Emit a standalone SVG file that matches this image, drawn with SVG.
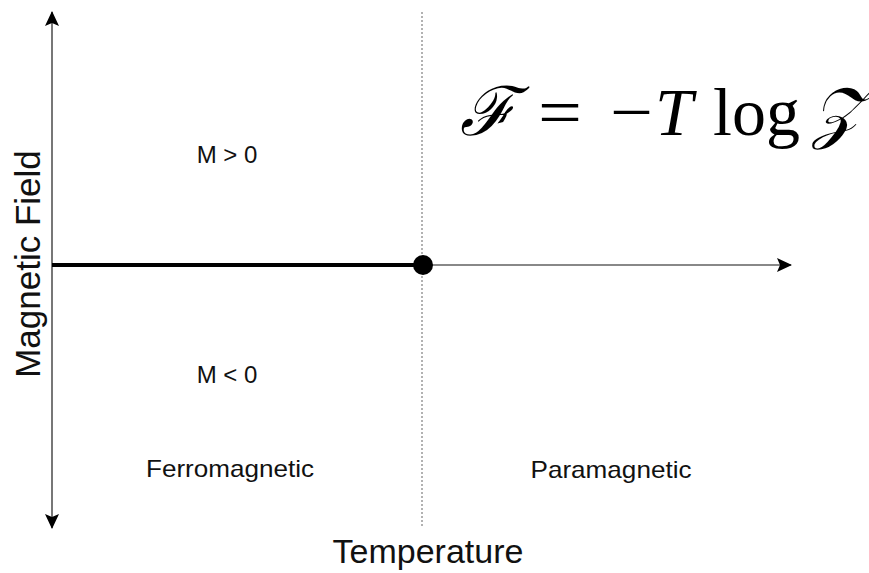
<svg xmlns="http://www.w3.org/2000/svg" width="869" height="573" viewBox="0 0 869 573">
<defs>
<marker id="ah" markerWidth="15" markerHeight="14" refX="14" refY="7" orient="auto" markerUnits="userSpaceOnUse" viewBox="0 0 15 14">
<path d="M0,0 L15,7 L0,14 L3,7 Z" fill="#000"/>
</marker>
<style>
.lbl{font-family:"Liberation Sans",Arial,sans-serif;fill:#111;}
.math{font-family:"Liberation Serif","DejaVu Serif",serif;fill:#000;font-size:68px;}
</style>
</defs>
<rect width="869" height="573" fill="#fff"/>
<g id="connectors">
<line x1="52" y1="265" x2="52" y2="12" stroke="#777" stroke-width="2" marker-end="url(#ah)"/>
<line x1="52" y1="265" x2="52" y2="528" stroke="#777" stroke-width="2" marker-end="url(#ah)"/>
<line x1="52" y1="265" x2="791" y2="265" stroke="#888" stroke-width="2" marker-end="url(#ah)"/>
<line x1="422" y1="12" x2="422" y2="526" stroke="#999" stroke-width="1.5" stroke-dasharray="2,2"/>
<line x1="52" y1="265" x2="423" y2="265" stroke="#000" stroke-width="4"/>
</g>
<g id="critical-point"><circle cx="423" cy="265" r="10" fill="#000"/></g>
<g id="formula">
<text class="math" x="460" y="135" font-style="italic">ℱ</text>
<text class="math" x="538" y="135" textLength="44" lengthAdjust="spacingAndGlyphs">=</text>
<text class="math" x="610" y="135" textLength="43" lengthAdjust="spacingAndGlyphs">−</text>
<text class="math" x="655" y="135" font-style="italic">T</text>
<text class="math" x="713" y="135">log</text>
<text class="math" x="812" y="135" font-style="italic">𝒵</text>
</g>
<g id="m-pos"><text class="lbl" x="227" y="163" font-size="24" text-anchor="middle">M &gt; 0</text></g>
<g id="m-neg"><text class="lbl" x="227" y="383" font-size="24" text-anchor="middle">M &lt; 0</text></g>
<g id="ferro"><text class="lbl" x="230" y="477" font-size="24" text-anchor="middle" textLength="168" lengthAdjust="spacingAndGlyphs">Ferromagnetic</text></g>
<g id="para"><text class="lbl" x="611" y="478" font-size="24" text-anchor="middle" textLength="161" lengthAdjust="spacingAndGlyphs">Paramagnetic</text></g>
<g id="temp"><text class="lbl" x="428" y="563" font-size="34" text-anchor="middle">Temperature</text></g>
<g id="field"><text class="lbl" x="0" y="0" font-size="35" text-anchor="middle" transform="translate(40,264) rotate(-90)">Magnetic Field</text></g>
</svg>
